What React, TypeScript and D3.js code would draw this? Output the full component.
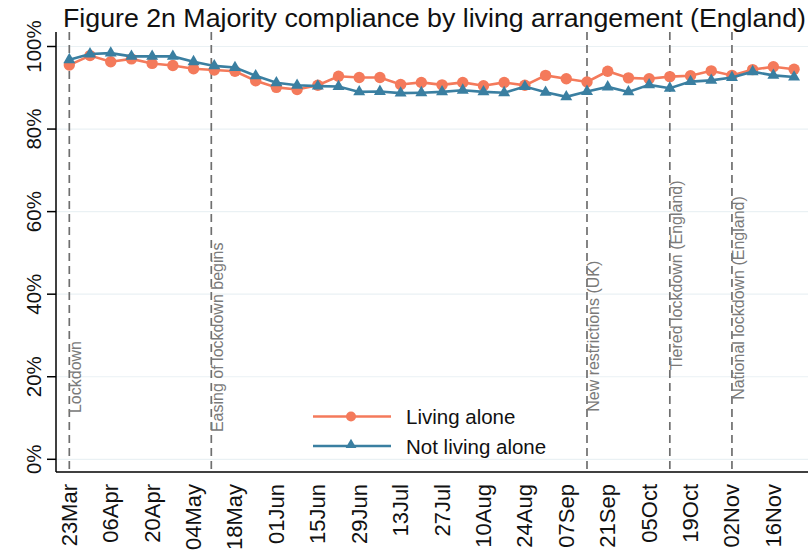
import React from 'react';
import * as d3 from 'd3';

const weeks = [
  '2020-03-23', '2020-03-30', '2020-04-06', '2020-04-13', '2020-04-20', '2020-04-27',
  '2020-05-04', '2020-05-11', '2020-05-18', '2020-05-25', '2020-06-01', '2020-06-08',
  '2020-06-15', '2020-06-22', '2020-06-29', '2020-07-06', '2020-07-13', '2020-07-20',
  '2020-07-27', '2020-08-03', '2020-08-10', '2020-08-17', '2020-08-24', '2020-08-31',
  '2020-09-07', '2020-09-14', '2020-09-21', '2020-09-28', '2020-10-05', '2020-10-12',
  '2020-10-19', '2020-10-26', '2020-11-02', '2020-11-09', '2020-11-16', '2020-11-23',
];

const livingAlone = [
  95.5, 97.8, 96.3, 97.0, 95.9, 95.4, 94.6, 94.3, 94.0, 91.7, 90.1, 89.6,
  90.6, 92.8, 92.5, 92.5, 90.8, 91.3, 90.7, 91.3, 90.5, 91.3, 90.6, 93.0,
  92.2, 91.4, 94.0, 92.4, 92.2, 92.7, 92.9, 94.1, 93.0, 94.4, 95.1, 94.5,
];

const notLivingAlone = [
  96.8, 98.2, 98.4, 97.6, 97.6, 97.6, 96.3, 95.3, 94.9, 92.9, 91.2, 90.6,
  90.4, 90.3, 89.0, 89.1, 88.7, 88.8, 89.0, 89.4, 89.0, 88.8, 90.3, 88.9,
  87.8, 89.1, 90.2, 89.0, 90.7, 89.9, 91.5, 91.8, 92.5, 93.9, 93.0, 92.6,
];

const tickDates = [
  '2020-03-23', '2020-04-06', '2020-04-20', '2020-05-04', '2020-05-18', '2020-06-01',
  '2020-06-15', '2020-06-29', '2020-07-13', '2020-07-27', '2020-08-10', '2020-08-24',
  '2020-09-07', '2020-09-21', '2020-10-05', '2020-10-19', '2020-11-02', '2020-11-16',
];
const tickLabels = [
  '23Mar', '06Apr', '20Apr', '04May', '18May', '01Jun', '15Jun', '29Jun', '13Jul',
  '27Jul', '10Aug', '24Aug', '07Sep', '21Sep', '05Oct', '19Oct', '02Nov', '16Nov',
];

const yTicks = [0, 20, 40, 60, 80, 100];

const eventDates = ['2020-03-23', '2020-05-10', '2020-09-14', '2020-10-12', '2020-11-02'];
const eventLabels = [
  'Lockdown',
  'Easing of lockdown begins',
  'New restrictions (UK)',
  'Tiered lockdown (England)',
  'National lockdown (England)',
];
const eventLabelAt = [11.2, 6.6, 11.5, 21.6, 14.4];

const seriesNames = ['Living alone', 'Not living alone'];

const ORANGE = '#f47a5b';
const BLUE = '#3a7fa1';
const FONT = "'Liberation Sans', Arial, Helvetica, sans-serif";

const W = 810;
const H = 558;
const plotLeft = 56;
const plotRight = 808;
const plotTop = 32;
const plotBottom = 472;

const parse = d3.utcParse('%Y-%m-%d');

export default function App() {
  const x = d3
    .scaleUtc()
    .domain([new Date(Date.UTC(2020, 2, 18, 12)), new Date(Date.UTC(2020, 10, 27, 17))])
    .range([plotLeft, plotRight]);
  const y = d3.scaleLinear().domain([0, 100]).range([459.3, 46.5]);

  const dates = weeks.map((w) => parse(w) as Date);
  const line = d3
    .line<number>()
    .x((_, i) => x(dates[i]))
    .y((v) => y(v));

  const tri = d3.symbol(d3.symbolTriangle, 62)() as string;
  const triSmall = d3.symbol(d3.symbolTriangle, 50)() as string;

  return (
    <svg
      width={W}
      height={H}
      viewBox={`0 0 ${W} ${H}`}
      style={{ position: 'absolute', left: 0, top: 0, background: '#fff' }}
      fontFamily={FONT}
    >
      <rect x={0} y={0} width={W} height={H} fill="#ffffff" />
      <text
        x={63}
        y={27}
        fontSize={26}
        fill="#111"
        textLength={743}
        lengthAdjust="spacingAndGlyphs"
      >
        Figure 2n Majority compliance by living arrangement (England)
      </text>

      {/* gridlines */}
      {yTicks.map((t) => (
        <line
          key={'g' + t}
          x1={plotLeft}
          x2={plotRight}
          y1={y(t)}
          y2={y(t)}
          stroke="#eaf1f4"
          strokeWidth={1.2}
        />
      ))}

      {/* event lines */}
      {eventDates.map((d, i) => {
        const ex = x(parse(d) as Date);
        const ly = y(eventLabelAt[i]);
        return (
          <g key={'e' + i}>
            <line
              x1={ex}
              x2={ex}
              y1={plotTop}
              y2={plotBottom}
              stroke="#6f6f6f"
              strokeWidth={1.7}
              strokeDasharray="8,5"
            />
            <text
              transform={`translate(${ex + 12},${ly}) rotate(-90)`}
              fontSize={16}
              fill="#7a7a7a"
            >
              {eventLabels[i]}
            </text>
          </g>
        );
      })}

      {/* axes */}
      <line x1={plotLeft} x2={plotLeft} y1={plotTop} y2={plotBottom} stroke="#000" strokeWidth={1.5} />
      <line x1={plotLeft} x2={plotRight} y1={plotBottom} y2={plotBottom} stroke="#000" strokeWidth={1.5} />
      {yTicks.map((t) => (
        <g key={'y' + t}>
          <line x1={plotLeft - 9} x2={plotLeft} y1={y(t)} y2={y(t)} stroke="#000" strokeWidth={1.5} />
          <text
            transform={`translate(41,${y(t)}) rotate(-90)`}
            textAnchor="middle"
            fontSize={20.5}
            fill="#111"
          >
            {t + '%'}
          </text>
        </g>
      ))}
      {tickDates.map((d, i) => {
        const tx = x(parse(d) as Date);
        return (
          <text
            key={'x' + i}
            transform={`translate(${tx + 7.5},484) rotate(-90)`}
            textAnchor="end"
            fontSize={22}
            fill="#111"
          >
            {tickLabels[i]}
          </text>
        );
      })}

      {/* series */}
      <path d={line(livingAlone) || ''} fill="none" stroke={ORANGE} strokeWidth={2.6} />
      {livingAlone.map((v, i) => (
        <circle key={'c' + i} cx={x(dates[i])} cy={y(v)} r={5.7} fill={ORANGE} />
      ))}
      <path d={line(notLivingAlone) || ''} fill="none" stroke={BLUE} strokeWidth={2.6} />
      {notLivingAlone.map((v, i) => (
        <path key={'t' + i} d={tri} transform={`translate(${x(dates[i])},${y(v)})`} fill={BLUE} />
      ))}

      {/* legend */}
      <g>
        <line x1={313} x2={391} y1={416.5} y2={416.5} stroke={ORANGE} strokeWidth={2.6} />
        <circle cx={351} cy={416.5} r={5} fill={ORANGE} />
        <text x={406} y={424} fontSize={20.5} fill="#111">
          {seriesNames[0]}
        </text>
        <line x1={313} x2={391} y1={446} y2={446} stroke={BLUE} strokeWidth={2.6} />
        <path d={triSmall} transform="translate(351,445)" fill={BLUE} />
        <text x={406} y={454} fontSize={20.5} fill="#111">
          {seriesNames[1]}
        </text>
      </g>
    </svg>
  );
}
